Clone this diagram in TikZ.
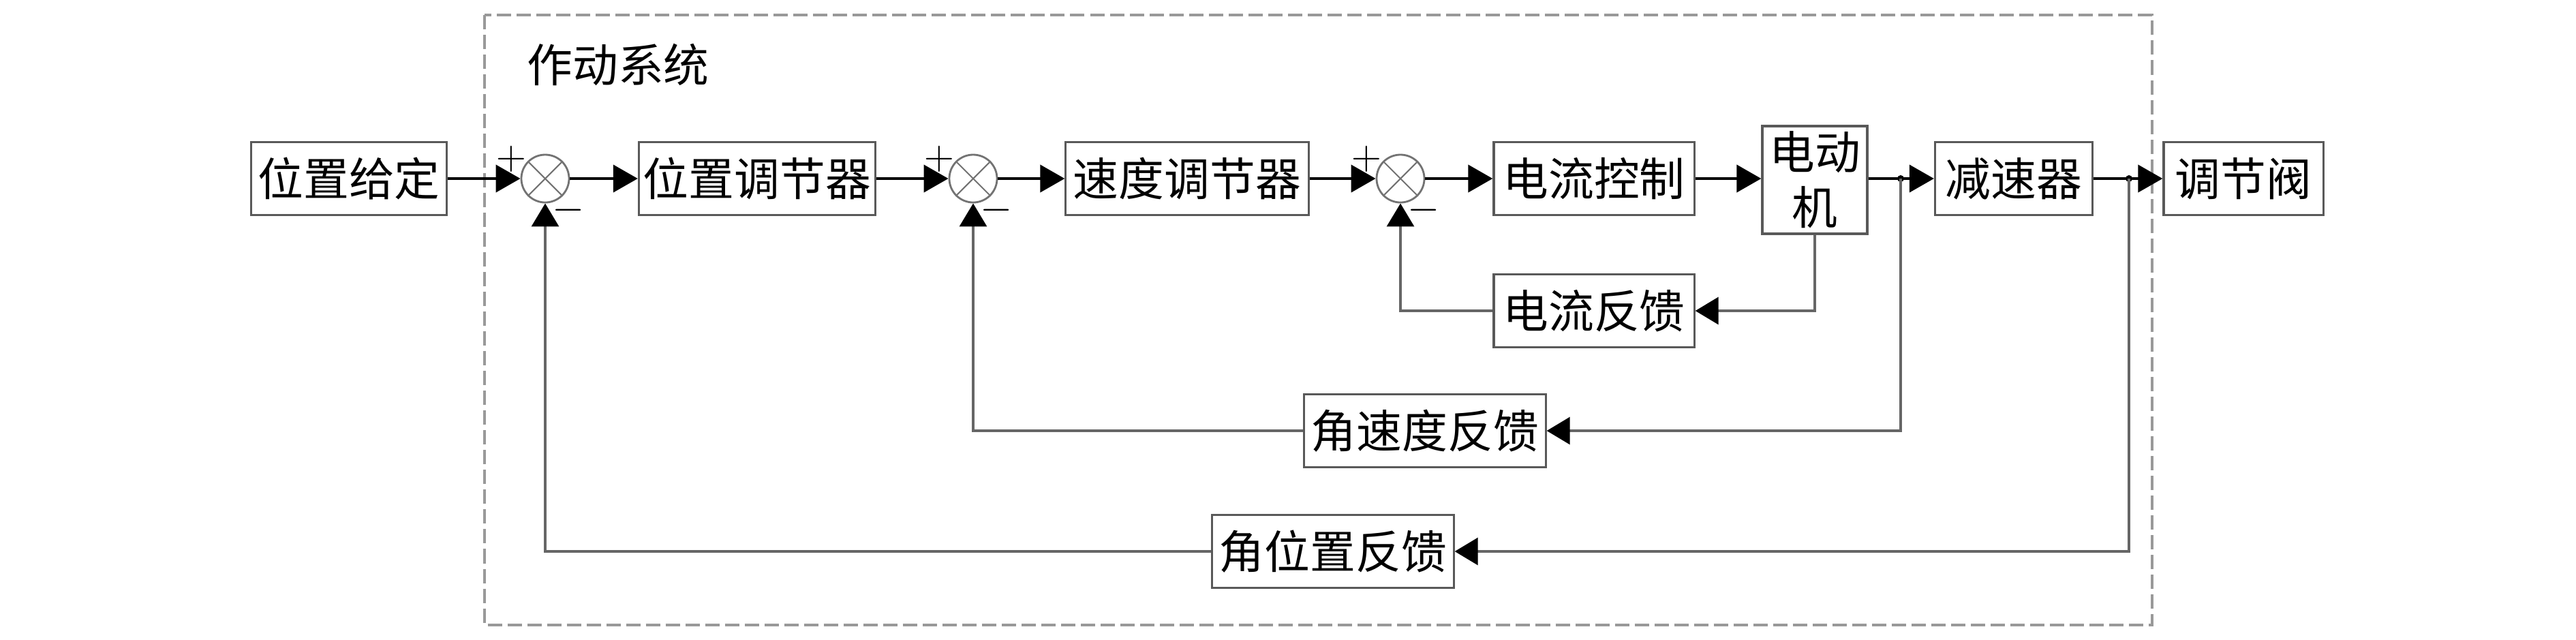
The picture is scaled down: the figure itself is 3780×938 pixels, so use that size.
\documentclass[tikz,border=0pt]{standalone}
\usepackage{fontspec}
\newfontfamily\cjk{Noto Sans CJK SC}
\usetikzlibrary{arrows.meta}
\begin{document}
\begin{tikzpicture}[x=0.01cm,y=-0.01cm,
  blk/.style={draw=black!65, line width=0.9pt, fill=white, inner sep=0pt,
    font=\cjk\fontsize{19}{23}\selectfont, align=center, minimum height=1.07cm},
  sumnode/.style={circle, draw=black!55, line width=0.8pt, minimum size=0.70cm, inner sep=0pt},
  sumx/.style={draw=black!55, line width=0.6pt},
  mainarrow/.style={line width=1.2pt, -{Triangle[length=0.36cm,width=0.40cm]}},
  fbarrow/.style={draw=black!60, line width=0.9pt, -{Triangle[length=0.34cm,width=0.40cm,color=black]}},
  sign/.style={font=\fontsize{18}{18}\selectfont, inner sep=0pt},
  frame/.style={draw=black!40, line width=1pt, dash pattern=on 0.21cm off 0.08cm}
]
\useasboundingbox (0,0) rectangle (3780,938);
\draw[frame] (711,22) rectangle (3158,917);
\node[font=\cjk\fontsize{19}{23}\selectfont, inner sep=0pt] (title) at (907,95) {作动系统};

% forward path
\node[blk, minimum width=2.87cm] (pg) at (512,262) {位置给定};
\node[sumnode] (s1) at (800,262) {};
\node[blk, minimum width=3.47cm] (pr) at (1111,262) {位置调节器};
\node[sumnode] (s2) at (1428,262) {};
\node[blk, minimum width=3.56cm] (sr) at (1742,262) {速度调节器};
\node[sumnode] (s3) at (2055,262) {};
\node[blk, minimum width=2.94cm] (cc) at (2339,262) {电流控制};
\node[blk, minimum width=1.54cm, minimum height=1.58cm] (mot) at (2663,264) {电动\\机};
\node[blk, minimum width=2.31cm] (red) at (2955,262) {减速器};
\node[blk, minimum width=2.34cm] (valve) at (3292,262) {调节阀};

% feedback blocks
\node[blk, minimum width=2.94cm] (cf) at (2339,456) {电流反馈};
\node[blk, minimum width=3.54cm] (asf) at (2091,632) {角速度反馈};
\node[blk, minimum width=3.54cm] (apf) at (1956,809) {角位置反馈};

% crosses in summing junctions
\foreach \s in {s1,s2,s3}{
  \draw[sumx] (\s.45) -- (\s.225) (\s.135) -- (\s.-45);
  \node[sign] at ([shift={(-50,-29)}]\s.center) {$+$};
  \node[sign] at ([shift={(34,46)}]\s.center) {$-$};
}

\coordinate (d1) at (2789,262);
\coordinate (d2) at (3124,262);

\draw[mainarrow] (pg.east) -- (s1.west);
\draw[mainarrow] (s1.east) -- (pr.west);
\draw[mainarrow] (pr.east) -- (s2.west);
\draw[mainarrow] (s2.east) -- (sr.west);
\draw[mainarrow] (sr.east) -- (s3.west);
\draw[mainarrow] (s3.east) -- (cc.west);
\draw[mainarrow] (cc.east) -- (cc.east -| mot.west);
\draw[mainarrow] (cc.east -| mot.east) -- (red.west);
\draw[mainarrow] (red.east) -- (valve.west);
\fill (d1) circle (5);
\fill (d2) circle (5);

% feedback loops
\draw[fbarrow] (mot.south) |- (cf.east);
\draw[fbarrow] (cf.west) -| (s3.south);
\draw[fbarrow] (d1) |- (asf.east);
\draw[fbarrow] (asf.west) -| (s2.south);
\draw[fbarrow] (d2) |- (apf.east);
\draw[fbarrow] (apf.west) -| (s1.south);
\end{tikzpicture}
\end{document}
